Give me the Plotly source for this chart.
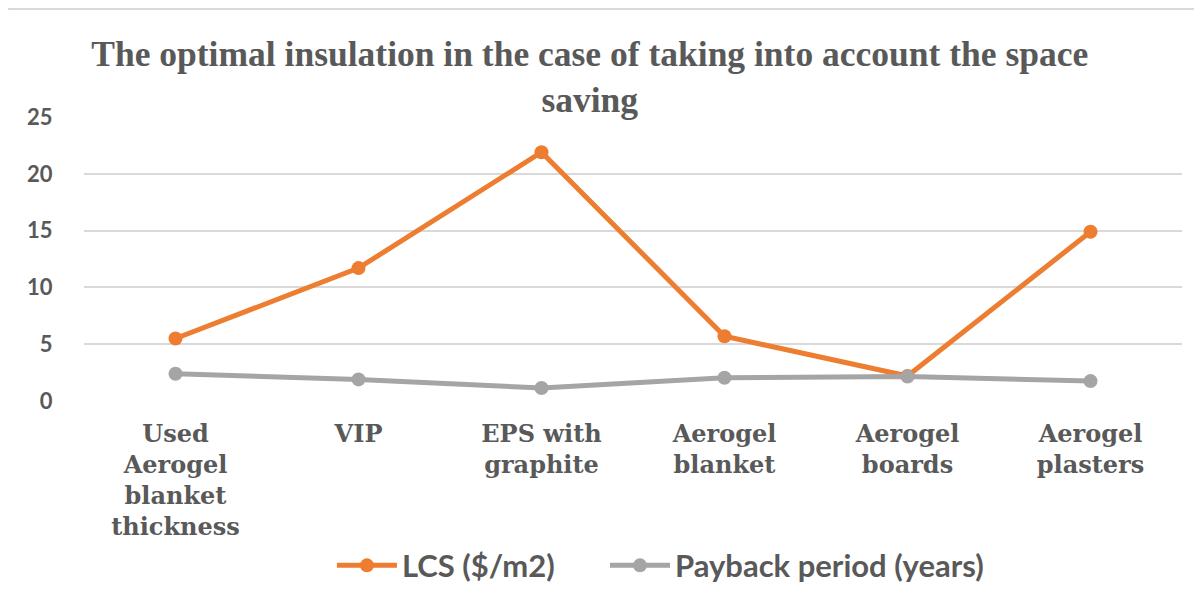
import plotly.graph_objects as go

categories = ["Used<br>Aerogel<br>blanket<br>thickness", "VIP", "EPS with<br>graphite",
              "Aerogel<br>blanket", "Aerogel<br>boards", "Aerogel<br>plasters"]
lcs = [5.5, 11.7, 21.9, 5.7, 2.2, 14.9]
payback = [2.4, 1.9, 1.15, 2.05, 2.15, 1.75]
y_ticks = [0, 5, 10, 15, 20, 25]

fig = go.Figure()
fig.add_trace(go.Scatter(x=categories, y=lcs, name="LCS ($/m2)" + "\u00a0" * 6, mode="lines+markers",
                         line=dict(color="#ED7D31", width=5),
                         marker=dict(size=14, color="#ED7D31")))
fig.add_trace(go.Scatter(x=categories, y=payback, name="Payback period (years)", mode="lines+markers",
                         line=dict(color="#A5A5A5", width=5),
                         marker=dict(size=14, color="#A5A5A5")))

fig.update_layout(
    width=1202, height=606,
    paper_bgcolor="white", plot_bgcolor="white",
    margin=dict(l=76, r=28, t=109, b=213),
    title=dict(text="The optimal insulation in the case of taking into account the space<br>saving",
               x=0.484, xanchor="center", y=0.905, yanchor="top",
               font=dict(family="Liberation Serif", size=35.5, color="#595959", weight="bold")),
    showlegend=True,
    legend=dict(orientation="h", x=0.525, xanchor="center", y=-0.58, yanchor="middle",
                font=dict(family="Lato", size=31, color="#595959", weight="bold"),
                itemwidth=60),
    xaxis=dict(range=[-0.5, 5.5], showgrid=False, showline=False, ticks="outside", ticklen=11,
               tickcolor="rgba(0,0,0,0)", zeroline=False,
               tickfont=dict(family="DejaVu Serif", size=24, color="#595959", weight="bold")),
    yaxis=dict(range=[0, 25], tickvals=y_ticks, showgrid=True, gridcolor="#D9D9D9", gridwidth=1.5,
               zeroline=False, showline=False, ticks="outside", ticklen=26,
               tickcolor="rgba(0,0,0,0)",
               tickfont=dict(family="Lato", size=22, color="#595959", weight="bold")),
    shapes=[
        dict(type="rect", xref="paper", yref="paper", x0=0, x1=0.916, y0=0.97, y1=1.03,
             fillcolor="white", line=dict(width=0), layer="above"),
        dict(type="line", xref="paper", yref="paper", x0=-0.0701, x1=1.03, y0=1.380, y1=1.380,
             line=dict(color="#D9D9D9", width=2), layer="above"),
        dict(type="line", xref="paper", yref="paper", x0=-0.0701, x1=-0.0701, y0=1.380, y1=-0.76,
             line=dict(color="#D9D9D9", width=2), layer="above"),
    ],
)

fig.write_html("out.html")
